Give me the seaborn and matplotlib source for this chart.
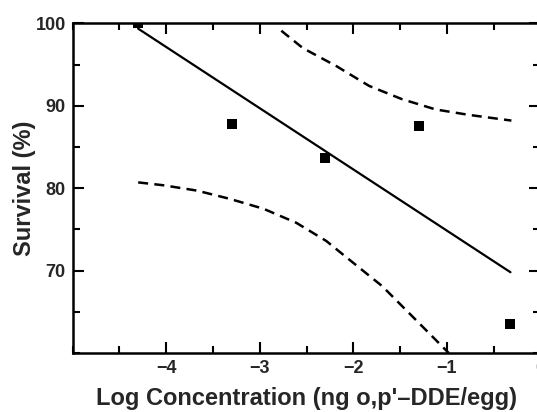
import matplotlib
matplotlib.use("Agg")
import matplotlib.pyplot as plt
import seaborn as sns
import pandas as pd
from matplotlib.ticker import MultipleLocator, FixedLocator

# ---- data ----
log_conc = [-4.30, -3.30, -2.30, -1.30, -0.33]
survival = [100.0, 87.8, 83.7, 87.6, 63.5]

fit_x = [-4.30, -0.32]
fit_y = [99.35, 69.8]

upper_x = [-2.77, -2.54, -2.18, -1.83, -1.48, -1.12, -0.77, -0.31]
upper_y = [99.1, 97.0, 94.8, 92.4, 90.8, 89.55, 88.9, 88.2]

lower_x = [-4.30, -4.03, -3.67, -3.32, -2.96, -2.61, -2.29, -2.04, -1.69, -1.33, -0.98]
lower_y = [80.7, 80.35, 79.7, 78.7, 77.5, 75.8, 73.6, 71.3, 68.1, 64.0, 60.0]

x_major = [-4, -3, -2, -1, 0]
y_major = [70, 80, 90, 100]

sns.set_style("ticks")
plt.rcParams["font.family"] = ["Liberation Sans", "DejaVu Sans"]

fig = plt.figure(figsize=(5.37, 4.12), dpi=100)
ax = fig.add_axes([0.1354, 0.1432, 0.8709, 0.8002])

pts = pd.DataFrame({"x": log_conc, "y": survival})
sns.scatterplot(data=pts, x="x", y="y", marker="s", s=48, color="black",
                edgecolor="black", linewidth=0, ax=ax, zorder=5)
sns.lineplot(x=fit_x, y=fit_y, color="black", lw=1.6, ax=ax, sort=False)
sns.lineplot(x=upper_x, y=upper_y, color="black", lw=1.8, ax=ax, sort=False,
             linestyle=(0, (4, 2.5)))
sns.lineplot(x=lower_x, y=lower_y, color="black", lw=1.8, ax=ax, sort=False,
             linestyle=(0, (4, 2.5)))

ax.set_xlim(-5, 0)
ax.set_ylim(60, 100)
ax.xaxis.set_major_locator(FixedLocator(x_major))
ax.xaxis.set_minor_locator(MultipleLocator(0.5))
ax.yaxis.set_major_locator(FixedLocator(y_major))
ax.yaxis.set_minor_locator(MultipleLocator(5))
ax.set_xticklabels([f"\u2212{abs(v)}" if v < 0 else str(v) for v in x_major])
ax.set_yticklabels([str(v) for v in y_major])

ax.tick_params(which="both", direction="in", top=True, right=True,
               width=1.5, color="black")
ax.tick_params(which="major", length=8, labelsize=13, pad=5)
ax.tick_params(which="minor", length=5)
for lab in ax.get_xticklabels() + ax.get_yticklabels():
    lab.set_fontweight("bold")

for sp in ax.spines.values():
    sp.set_visible(True)
    sp.set_linewidth(1.8)
    sp.set_color("black")

ax.set_xlabel("Log Concentration (ng o,p'\u2013DDE/egg)", fontsize=17,
              fontweight="bold", labelpad=7)
ax.set_ylabel("Survival (%)", fontsize=17, fontweight="bold", labelpad=0)

fig.savefig("out.png", dpi=100)
